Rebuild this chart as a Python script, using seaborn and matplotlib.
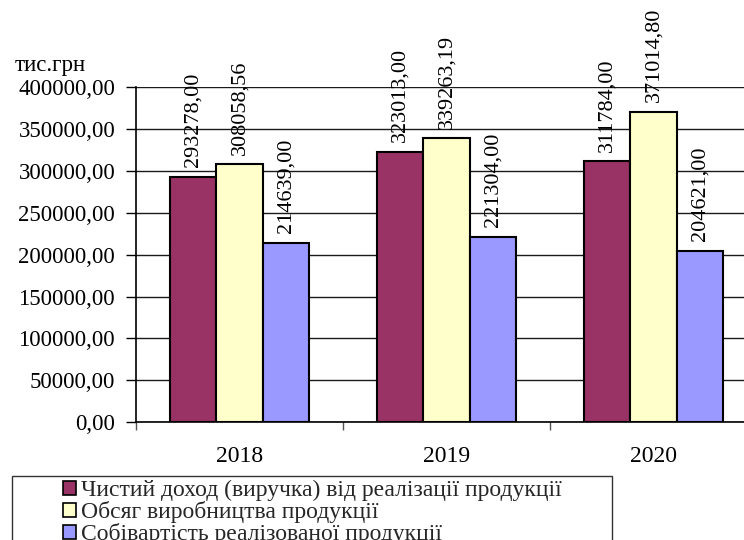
import matplotlib
matplotlib.use("Agg")
import matplotlib.pyplot as plt
from matplotlib.patches import Rectangle
from matplotlib.ticker import FuncFormatter, FixedLocator
import seaborn as sns
import pandas as pd

# Data
years = ["2018", "2019", "2020"]
series_names = [
    "Чистий доход (виручка) від реалізації продукції",
    "Обсяг виробництва продукції",
    "Собівартість реалізованої продукції",
]
revenue = [293278.00, 323013.00, 311784.00]
production = [308058.56, 339263.19, 371014.80]
cost = [214639.00, 221304.00, 204621.00]
colors = ["#993366", "#FFFFCC", "#9999FF"]
y_ticks = [0, 50000, 100000, 150000, 200000, 250000, 300000, 350000, 400000]
unit_label = "тис.грн"

values = [revenue, production, cost]
rows = []
for name, vals in zip(series_names, values):
    for yr, v in zip(years, vals):
        rows.append({"year": yr, "series": name, "value": v})
df = pd.DataFrame(rows)

sns.set_theme(style="white")
plt.rcParams["font.family"] = ["Liberation Serif", "DejaVu Serif"]

W, H = 744, 540
fig = plt.figure(figsize=(W / 100, H / 100), dpi=100)
ax = fig.add_axes([136 / W, 1 - 422 / H, 621 / W, (422 - 87.5) / H])

sns.barplot(
    data=df, x="year", y="value", hue="series", hue_order=series_names,
    palette=colors, width=0.675, gap=0, edgecolor="black", linewidth=1.5,
    saturation=1, ax=ax, legend=False, zorder=3,
)

ax.set_xlim(-0.5, 2.5)
ax.set_ylim(0, 400000)
ax.set_yticks(y_ticks)
ax.yaxis.set_major_formatter(FuncFormatter(lambda v, p: f"{v:.2f}".replace(".", ",")))
ax.grid(axis="y", color="#1a1a1a", linewidth=1.0, zorder=0)
ax.set_axisbelow(True)
ax.set_xlabel("")
ax.set_ylabel("")

for s in ["top", "right"]:
    ax.spines[s].set_visible(False)
for s in ["left", "bottom"]:
    ax.spines[s].set_color("black")
    ax.spines[s].set_linewidth(1.2)

ax.tick_params(axis="y", which="major", length=7, width=1, color="black",
               pad=8, labelsize=16.5, labelcolor="black", left=True)
ax.tick_params(axis="x", which="major", length=0, pad=17, labelsize=17,
               labelcolor="black")
ax.xaxis.set_minor_locator(FixedLocator([-0.5, 0.5, 1.5, 2.5]))
ax.tick_params(axis="x", which="minor", length=6, width=1, color="#555555",
               bottom=True)

# Value labels above each bar
for container, vals in zip(ax.containers, values):
    labels = [f"{v:.2f}".replace(".", ",") for v in vals]
    ax.bar_label(container, labels=labels, rotation=90, padding=7,
                 fontsize=16, color="black", clip_on=False)

fig.text(15 / W, 1 - 65 / H, unit_label, fontsize=16.5, va="center", ha="left",
         color="black")

# Legend with a separate frame
handles = [Rectangle((0, 0), 1, 1, facecolor=c, edgecolor="black", linewidth=1.2)
           for c in colors]
leg = fig.legend(
    handles, series_names, loc="upper left",
    bbox_to_anchor=(63 / W, 1 - 480 / H), frameon=False, fontsize=17,
    borderpad=0, borderaxespad=0, handlelength=0.55, handleheight=0.55,
    handletextpad=0.2, labelspacing=0.0,
)
frame = Rectangle((12 / W, -0.2), (612 - 12) / W, 0.2 + (540 - 476) / H,
                  transform=fig.transFigure, facecolor="none",
                  edgecolor="#333333", linewidth=1.0)
fig.patches.append(frame)

fig.savefig("out.png", dpi=100)
